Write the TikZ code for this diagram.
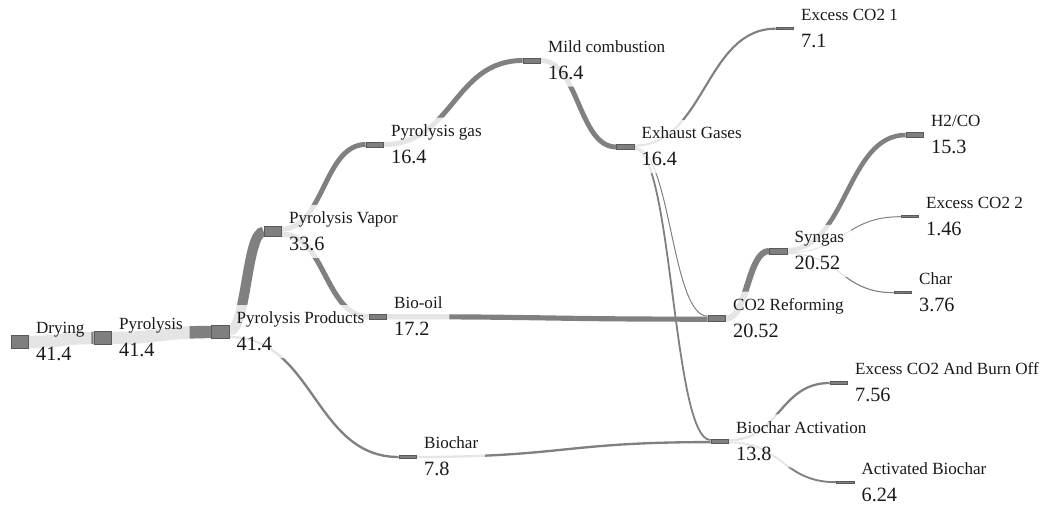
\documentclass[tikz,border=0pt]{standalone}
\usepackage{fontspec}
\setmainfont{Liberation Serif}
\usetikzlibrary{calc,fit}
\pgfdeclarelayer{links}
\pgfdeclarelayer{halos}
\pgfsetlayers{links,halos,main}
\definecolor{flow}{HTML}{808080}
\definecolor{barfill}{HTML}{7F7F7F}
\definecolor{barline}{HTML}{5A5A5A}
\definecolor{ink}{HTML}{1A1A1A}
\tikzset{
  bar/.style={draw=barline, fill=barfill, line width=0.6pt, inner sep=0pt, minimum width=13.1pt},
  lbl/.style={anchor=base west, inner sep=0pt, text=ink, font=\fontsize{12.8}{14}\selectfont},
  val/.style={anchor=base west, inner sep=0pt, text=ink, font=\fontsize{15.2}{17}\selectfont},
  halo/.style={fill=white, fill opacity=0.8, draw=none, inner sep=5pt, rounded corners=4pt},
  flowline/.style={draw=flow, line cap=butt},
}
% \sknode{id}{left x}{centre y}{value}{name}  (units: px, y pointing down)
\newcommand\sknode[5]{%
  \node[bar, minimum height={max(0.3*#4,2)*0.75pt}] (#1) at ({#2+8.75},#3) {};
  \node[lbl] (#1-n) at ($(#1.east)+(7,-8)$) {#5};
  \node[val] (#1-v) at ($(#1.east)+(7,19)$) {#4};
  \begin{pgfonlayer}{halos}\node[halo, fit=(#1-n)(#1-v)] (#1-h) {};\end{pgfonlayer}}
% \sklink{source}{offset at source}{target}{offset at target}{value}
\newcommand\sklink[5]{%
  \draw[flowline, line width={max(0.225*#5,0.75)*1pt}]
    let \p1=($(#1.east)+(0,#2)$), \p2=($(#3.west)+(0,#4)$) in
    (\p1) .. controls ({0.5*\x1+0.5*\x2},\y1) and ({0.5*\x1+0.5*\x2},\y2) .. (\p2);}
\begin{document}
\begin{tikzpicture}[x=0.75pt, y=-0.75pt]
\useasboundingbox (0,0) rectangle (1042,505);

\sknode{dry}{11}{342}{41.4}{Drying}
\sknode{pyr}{94}{338}{41.4}{Pyrolysis}
\sknode{pp}{211.5}{332}{41.4}{Pyrolysis Products}
\sknode{pv}{264}{231.7}{33.6}{Pyrolysis Vapor}
\sknode{pg}{366}{144.5}{16.4}{Pyrolysis gas}
\sknode{mc}{523}{60.5}{16.4}{Mild combustion}
\sknode{eg}{616.5}{147}{16.4}{Exhaust Gases}
\sknode{ex1}{776}{28.7}{7.1}{Excess CO2 1}
\sknode{oil}{369}{316.7}{17.2}{Bio-oil}
\sknode{ref}{708}{318.7}{20.52}{CO2 Reforming}
\sknode{syn}{769.5}{251}{20.52}{Syngas}
\sknode{hco}{906}{135}{15.3}{H2/CO}
\sknode{ex2}{901}{216.7}{1.46}{Excess CO2 2}
\sknode{chr}{894}{292.7}{3.76}{Char}
\sknode{bch}{399}{457}{7.8}{Biochar}
\sknode{act}{711}{441.2}{13.8}{Biochar Activation}
\sknode{brn}{830}{383}{7.56}{Excess CO2 And Burn Off}
\sknode{abc}{836.5}{482.2}{6.24}{Activated Biochar}

\begin{pgfonlayer}{links}
\sklink{dry}{0}{pyr}{0}{41.4}
\sklink{pyr}{0}{pp}{0}{41.4}
\sklink{pp}{-1.17}{pv}{0}{33.6}
\sklink{pp}{5.04}{bch}{0}{7.8}
\sklink{pv}{-2.58}{pg}{0}{16.4}
\sklink{pv}{2.46}{oil}{0}{17.2}
\sklink{pg}{0}{mc}{0}{16.4}
\sklink{mc}{0}{eg}{0}{16.4}
\sklink{eg}{-1.4}{ex1}{0}{7.1}
\sklink{eg}{0.17}{ref}{-2.58}{3.32}
\sklink{eg}{1.57}{act}{-1.17}{6}
\sklink{oil}{0}{ref}{0.5}{17.2}
\sklink{bch}{0}{act}{0.9}{7.8}
\sklink{ref}{0}{syn}{0}{20.52}
\sklink{syn}{-0.78}{hco}{0}{15.3}
\sklink{syn}{1.73}{ex2}{0}{1.46}
\sklink{syn}{2.52}{chr}{0}{3.76}
\sklink{act}{-0.94}{brn}{0}{7.56}
\sklink{act}{1.14}{abc}{0}{6.24}
\end{pgfonlayer}
\end{tikzpicture}
\end{document}
